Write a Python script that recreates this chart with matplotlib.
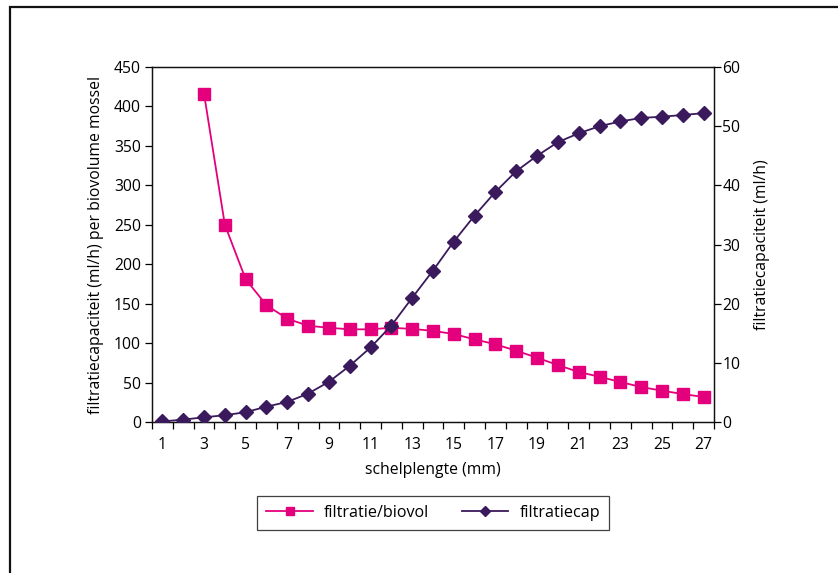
import matplotlib.pyplot as plt
from matplotlib.patches import Rectangle

plt.rcParams['font.family'] = ['Open Sans', 'DejaVu Sans']

# shell length classes (mm)
lengths = list(range(1, 28))

# filtration per biovolume (left axis); no value for 1 and 2 mm
biovol_x = list(range(3, 28))
biovol = [416, 250, 181, 148, 131, 122, 119.5, 117.5, 117.5, 119.5, 118, 115.6,
          111.5, 104.8, 98.5, 90.4, 81.5, 72.2, 63.4, 57.4, 50.7, 44.4, 39.7,
          35.5, 31.7]

# filtration capacity (ml/h, right axis)
cap = [0.1, 0.4, 0.8, 1.15, 1.66, 2.6, 3.4, 4.8, 6.8, 9.5, 12.6, 16.3, 21.0,
       25.6, 30.5, 34.9, 38.9, 42.4, 45.0, 47.3, 48.8, 50.0, 50.8, 51.4, 51.6,
       51.9, 52.2]

x_labels = [str(v) for v in range(1, 28, 2)]

pink = '#E4007D'
purple = '#3A1A5C'
fs = 11.3

fig = plt.figure(figsize=(8.38, 5.73), dpi=100)
ax = fig.add_axes([0.1814, 0.2635, 0.6706, 0.6195])
ax2 = ax.twinx()

l1, = ax.plot(biovol_x, biovol, '-s', color=pink, lw=1.3, ms=8.5,
              markeredgecolor=pink, label='filtratie/biovol', zorder=3)
l2, = ax2.plot(lengths, cap, '-D', color=purple, lw=1.3, ms=7,
               markeredgecolor=purple, label='filtratiecap', zorder=3)

ax.set_xlim(0.5, 27.5)
ax.set_ylim(0, 450)
ax.set_yticks(range(0, 451, 50))
ax2.set_ylim(0, 60)
ax2.set_yticks(range(0, 61, 10))

# category axis: tick marks between classes, labels on odd classes
ax.set_xticks([v + 0.5 for v in range(0, 28)])
ax.set_xticklabels([])
ax.set_xticks(range(1, 28, 2), minor=True)
ax.set_xticklabels(x_labels, minor=True)
ax.tick_params(axis='x', which='major', length=5, width=0.9, direction='out')
ax.tick_params(axis='x', which='minor', length=0, pad=11, labelsize=fs)
ax.tick_params(axis='y', length=5, width=0.9, labelsize=fs, pad=3)
ax2.tick_params(axis='y', length=5, width=0.9, labelsize=fs, pad=1)

for a in (ax, ax2):
    for s in a.spines.values():
        s.set_linewidth(0.9)
        s.set_color('#111111')

ax.set_xlabel('schelplengte (mm)', fontsize=fs, labelpad=6)
ax.set_ylabel('filtratiecapaciteit (ml/h) per biovolume mossel', fontsize=fs,
              labelpad=7)
ax2.set_ylabel('filtratiecapaciteit (ml/h)', fontsize=fs, labelpad=10)

leg = fig.legend(handles=[l1, l2], loc='center', bbox_to_anchor=(0.517, 0.105),
                 ncol=2, frameon=True, fancybox=False, fontsize=11.6,
                 handlelength=2.9, handletextpad=0.7, columnspacing=2.0,
                 borderpad=0.55, markerscale=0.75, edgecolor='#111111')
leg.get_frame().set_linewidth(0.9)

# page frame around the chart
fig.patches.append(Rectangle((10 / 838, -0.1), 1.2, 1 - 7 / 573 + 0.1,
                             transform=fig.transFigure, fill=False,
                             lw=1.6, edgecolor='#111111'))

fig.savefig('out.png', dpi=100)
